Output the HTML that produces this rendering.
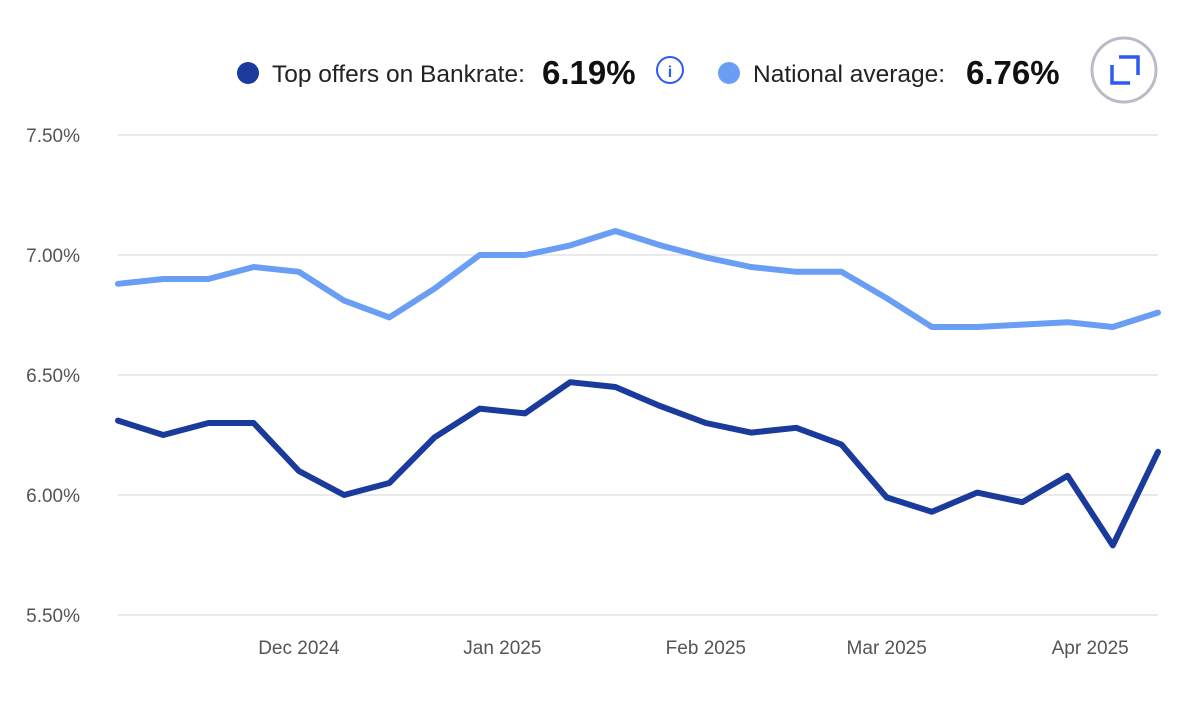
<!DOCTYPE html>
<html><head><meta charset="utf-8"><style>
body{margin:0;background:#fff;font-family:"Liberation Sans",sans-serif;}
svg{display:block}
</style></head><body>
<svg id="chart" width="1200" height="723">
 <g>
  <circle cx="248" cy="73" r="11" fill="#1a3a9c"/>
  <text x="272" y="82" font-size="24.5" fill="#222">Top offers on Bankrate:</text>
  <text x="542" y="84" font-size="33" font-weight="bold" fill="#111">6.19%</text>
  <g>
   <circle cx="670" cy="70" r="13" fill="none" stroke="#2d5bf0" stroke-width="2"/>
   <text x="670" y="77" font-size="16" text-anchor="middle" fill="#2d5bf0" font-weight="bold">i</text>
  </g>
  <circle cx="729" cy="73" r="11" fill="#6a9ef5"/>
  <text x="753" y="82" font-size="24.5" fill="#222">National average:</text>
  <text x="966" y="84" font-size="33" font-weight="bold" fill="#111">6.76%</text>
 </g>
 <g>
  <circle cx="1124" cy="70" r="32" fill="#fff" stroke="#b8bcc6" stroke-width="3"/>
  <path d="M1119 57 H1138 V75 M1112 65 V83 H1130" fill="none" stroke="#2d5bf0" stroke-width="3.5"/>
 </g>
 <g id="grid"></g><g id="ylabels"></g><g id="xlabels"></g><g id="lines"></g>
</svg>
<script>
const categories=["W1","W2","W3","W4","W5","W6","W7","W8","W9","W10","W11","W12","W13","W14","W15","W16","W17","W18","W19","W20","W21","W22","W23","W24"];
const bankrate=[6.31,6.25,6.30,6.30,6.10,6.00,6.05,6.24,6.36,6.34,6.47,6.45,6.37,6.30,6.26,6.28,6.21,5.99,5.93,6.01,5.97,6.08,5.79,6.18];
const national=[6.88,6.90,6.90,6.95,6.93,6.81,6.74,6.86,7.00,7.00,7.04,7.10,7.04,6.99,6.95,6.93,6.93,6.82,6.70,6.70,6.71,6.72,6.70,6.76];
const yTicks=[5.5,6.0,6.5,7.0,7.5];
const yTickLabels=["5.50%","6.00%","6.50%","7.00%","7.50%"];
const xTickIdx=[4,8.5,13,17,21.5];
const xTickLabels=["Dec 2024","Jan 2025","Feb 2025","Mar 2025","Apr 2025"];
const NS="http://www.w3.org/2000/svg";
const x0=118,x1=1158;
const xs=i=>x0+i*(x1-x0)/(categories.length-1);
const ys=v=>615-(v-5.5)*240;
function mk(t,a,p){const e=document.createElementNS(NS,t);for(const k in a)e.setAttribute(k,a[k]);p.appendChild(e);return e;}
const g=document.getElementById('grid'),yl=document.getElementById('ylabels'),xl=document.getElementById('xlabels'),ln=document.getElementById('lines');
yTicks.forEach((v,i)=>{
 const l=mk('line',{x1:x0,x2:x1,y1:ys(v),y2:ys(v),stroke:'#e3e3e3','stroke-width':1.5},g);
 
 
 const t=mk('text',{x:80,y:ys(v)+7,'font-size':19,fill:'#555','text-anchor':'end'},yl);t.textContent=yTickLabels[i];
 
 
});
xTickIdx.forEach((v,i)=>{
 const t=mk('text',{x:xs(v),y:654,'font-size':19,fill:'#555','text-anchor':'middle'},xl);t.textContent=xTickLabels[i];
 
 
});
function line(data,color,name){
 const p=mk('polyline',{points:data.map((v,i)=>xs(i)+','+ys(v)).join(' '),fill:'none',stroke:color,'stroke-width':6,'stroke-linejoin':'round','stroke-linecap':'round'},ln);
 
 
}
line(national,'#6a9ef5','national-average-line');
line(bankrate,'#1a3a9c','bankrate-line');
</script>
</body></html>
